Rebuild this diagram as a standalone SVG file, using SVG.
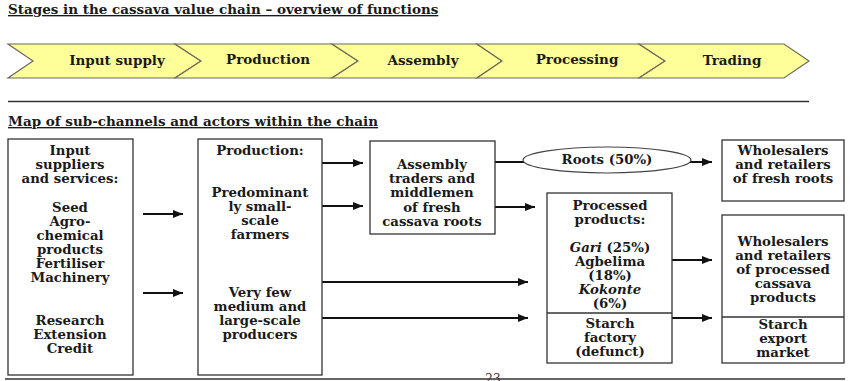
<svg xmlns="http://www.w3.org/2000/svg" width="850" height="381" viewBox="0 0 850 381">
<style>
  text { font-family: "DejaVu Serif", "Liberation Serif", serif; font-weight: bold; fill: #1a1a1a; }
  .title { font-size: 13.5px; text-decoration: underline; }
  .stage { font-size: 13.5px; text-anchor: middle; }
  .lbl { font-size: 13.3px; text-anchor: middle; }
  .chev { fill: #FFFF99; stroke: #6b6b5a; stroke-width: 1.2; }
  .box { fill: #ffffff; stroke: #333333; stroke-width: 1.3; }
  .conn { stroke: #111111; stroke-width: 2; fill: none; }
  .arr { marker-end: url(#ah); }
  .rule { stroke: #333333; stroke-width: 1.5; }
</style>
<defs>
  <marker id="ah" markerUnits="userSpaceOnUse" markerWidth="10" markerHeight="8" refX="10" refY="4" orient="auto">
    <path d="M0,0 L10,4 L0,8 Z" fill="#111111"/>
  </marker>
</defs>
<rect x="0" y="0" width="850" height="381" fill="#ffffff"/>

<text class="title" x="8" y="14">Stages in the cassava value chain – overview of functions</text>

<g id="stages">
  <g id="stage-input">
    <polygon class="chev" points="8,44 175,44 201,61 175,78 8,78 33,61"/>
    <text class="stage" x="117" y="65">Input supply</text>
  </g>
  <g id="stage-production">
    <polygon class="chev" points="175,44 332,44 358,61 332,78 175,78 201,61"/>
    <text class="stage" x="268" y="64">Production</text>
  </g>
  <g id="stage-assembly">
    <polygon class="chev" points="332,44 477,44 502,61 477,78 332,78 358,61"/>
    <text class="stage" x="423" y="65">Assembly</text>
  </g>
  <g id="stage-processing">
    <polygon class="chev" points="477,44 639,44 665,61 639,78 477,78 502,61"/>
    <text class="stage" x="577" y="64">Processing</text>
  </g>
  <g id="stage-trading">
    <polygon class="chev" points="639,44 784,44 809,61 784,78 639,78 665,61"/>
    <text class="stage" x="732" y="65">Trading</text>
  </g>
</g>

<line class="rule" x1="8" y1="101.5" x2="809" y2="101.5"/>

<text class="title" x="8" y="126">Map of sub-channels and actors within the chain</text>

<g id="connectors">
  <line class="conn arr" x1="143" y1="214" x2="183" y2="214"/>
  <line class="conn arr" x1="143" y1="293" x2="183" y2="293"/>
  <line class="conn arr" x1="322" y1="163" x2="363" y2="163"/>
  <line class="conn arr" x1="322" y1="206" x2="363" y2="206"/>
  <line class="conn arr" x1="322" y1="282" x2="528" y2="282"/>
  <line class="conn arr" x1="322" y1="318" x2="528" y2="318"/>
  <line class="conn" x1="495" y1="162" x2="524" y2="162"/>
  <line class="conn arr" x1="690" y1="162" x2="712" y2="162"/>
  <line class="conn arr" x1="495" y1="207" x2="535" y2="207"/>
  <line class="conn arr" x1="672" y1="260" x2="712" y2="260"/>
  <line class="conn arr" x1="672" y1="318" x2="712" y2="318"/>
</g>

<g id="input-suppliers">
  <rect class="box" x="8" y="139" width="125" height="236"/>
  <text class="lbl" x="70" y="155">Input</text>
  <text class="lbl" x="70" y="169">suppliers</text>
  <text class="lbl" x="70" y="183">and services:</text>
  <text class="lbl" x="70" y="212">Seed</text>
  <text class="lbl" x="70" y="226">Agro-</text>
  <text class="lbl" x="70" y="240">chemical</text>
  <text class="lbl" x="70" y="254">products</text>
  <text class="lbl" x="70" y="268">Fertiliser</text>
  <text class="lbl" x="70" y="282">Machinery</text>
  <text class="lbl" x="70" y="325">Research</text>
  <text class="lbl" x="70" y="339">Extension</text>
  <text class="lbl" x="70" y="353">Credit</text>
</g>

<g id="production">
  <rect class="box" x="198" y="139" width="124" height="236"/>
  <text class="lbl" x="260" y="155">Production:</text>
  <text class="lbl" x="260" y="197">Predominant</text>
  <text class="lbl" x="260" y="211">ly small-</text>
  <text class="lbl" x="260" y="225">scale</text>
  <text class="lbl" x="260" y="239">farmers</text>
  <text class="lbl" x="260" y="297">Very few</text>
  <text class="lbl" x="260" y="311">medium and</text>
  <text class="lbl" x="260" y="325">large-scale</text>
  <text class="lbl" x="260" y="339">producers</text>
</g>

<g id="assembly">
  <rect class="box" x="370" y="141" width="125" height="93"/>
  <text class="lbl" x="432" y="169">Assembly</text>
  <text class="lbl" x="432" y="183">traders and</text>
  <text class="lbl" x="432" y="197">middlemen</text>
  <text class="lbl" x="432" y="212">of fresh</text>
  <text class="lbl" x="432" y="226">cassava roots</text>
</g>

<g id="roots">
  <ellipse cx="607" cy="160" rx="84" ry="13" fill="#ffffff" stroke="#444444" stroke-width="1.2"/>
  <text class="lbl" x="607" y="164">Roots (50%)</text>
</g>

<g id="processed">
  <rect class="box" x="547" y="193" width="125" height="170"/>
  <line class="box" x1="547" y1="313" x2="672" y2="313"/>
  <text class="lbl" x="610" y="210">Processed</text>
  <text class="lbl" x="610" y="224">products:</text>
  <text class="lbl" x="610" y="252"><tspan font-style="italic">Gari</tspan> (25%)</text>
  <text class="lbl" x="610" y="266">Agbelima</text>
  <text class="lbl" x="610" y="280">(18%)</text>
  <text class="lbl" x="610" y="294" font-style="italic">Kokonte</text>
  <text class="lbl" x="610" y="308">(6%)</text>
  <text class="lbl" x="610" y="328">Starch</text>
  <text class="lbl" x="610" y="342">factory</text>
  <text class="lbl" x="610" y="356">(defunct)</text>
</g>

<g id="fresh-retail">
  <rect class="box" x="722" y="140" width="122" height="61"/>
  <text class="lbl" x="783" y="155">Wholesalers</text>
  <text class="lbl" x="783" y="169">and retailers</text>
  <text class="lbl" x="783" y="183">of fresh roots</text>
</g>

<g id="processed-retail">
  <rect class="box" x="722" y="215" width="122" height="148"/>
  <line class="box" x1="722" y1="317" x2="844" y2="317"/>
  <text class="lbl" x="783" y="246">Wholesalers</text>
  <text class="lbl" x="783" y="260">and retailers</text>
  <text class="lbl" x="783" y="274">of processed</text>
  <text class="lbl" x="783" y="288">cassava</text>
  <text class="lbl" x="783" y="302">products</text>
  <text class="lbl" x="783" y="329">Starch</text>
  <text class="lbl" x="783" y="343">export</text>
  <text class="lbl" x="783" y="357">market</text>
</g>

<text x="493" y="383" style="font-weight:normal;font-size:12px;text-anchor:middle;fill:#333">23</text>
<line class="rule" x1="5" y1="379" x2="845" y2="379"/>
</svg>
